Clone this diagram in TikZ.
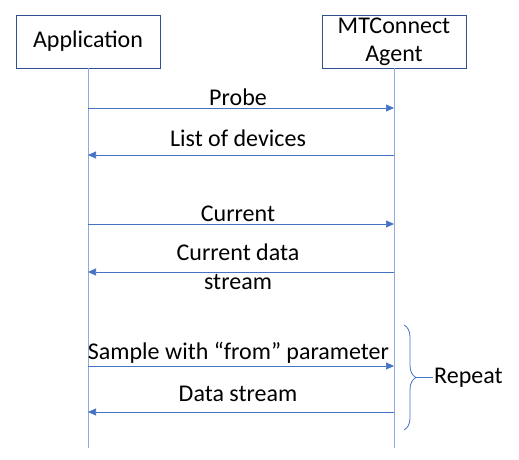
\documentclass[tikz,border=0pt]{standalone}
\usepackage{fontspec}
\setmainfont{Carlito}
\usetikzlibrary{arrows.meta,positioning,decorations.pathreplacing}

\definecolor{msgblue}{HTML}{4472C4}
\definecolor{lifeblue}{HTML}{8FAADC}
\definecolor{boxblue}{HTML}{2F528F}

\begin{document}
\begin{tikzpicture}[
  x=1pt, y=1pt,
  font=\fontsize{24}{28}\selectfont,
  actor/.style={draw=boxblue, fill=white, align=center, minimum width=144pt, minimum height=53pt, inner sep=1pt},
  life/.style={draw=lifeblue, line width=0.8pt},
  msg/.style={draw=msgblue, line width=0.7pt, -{Triangle[length=8pt, width=7pt]}},
  lbl/.style={inner sep=0pt, anchor=base}
]
  \useasboundingbox (0,0) rectangle (519,-460);

  % Participants
  \node[actor] (app) at (88,-41.5) {Application};
  \node[actor] (agent) at (394,-41.5) {MTConnect\\Agent};

  % Lifelines
  \coordinate (append) at (88,-448);
  \coordinate (agentend) at (394,-448);
  \draw[life] (app.south) -- (append);
  \draw[life] (agent.south) -- (agentend);

  % Messages
  \draw[msg] (app.south |- 0,-108) -- (agent.south |- 0,-108);
  \node[lbl] (probe) at (238,-105) {Probe};
  \draw[msg] (agent.south |- 0,-155) -- (app.south |- 0,-155);
  \node[lbl] (list) at (238,-146) {List of devices};

  \draw[msg] (app.south |- 0,-224) -- (agent.south |- 0,-224);
  \node[lbl] (current) at (238,-221) {Current};
  \draw[msg] (agent.south |- 0,-272) -- (app.south |- 0,-272);
  \node[lbl] (curdata) at (238,-260) {Current data};
  \node[lbl] (curstream) at (238,-289.5) {stream};

  \draw[msg] (app.south |- 0,-366) -- (agent.south |- 0,-366);
  \node[lbl] (sample) at (238.5,-359) {Sample with “from” parameter};
  \draw[msg] (agent.south |- 0,-412) -- (app.south |- 0,-412);
  \node[lbl] (datastream) at (238,-401.5) {Data stream};

  % Repeat brace
  \coordinate (bracetop) at (404,-325);
  \coordinate (bracebot) at (404,-430);
  \draw[msgblue, line width=0.8pt, decorate, decoration={brace, amplitude=12pt, mirror, raise=0pt}]
    (bracebot) -- (bracetop);
  \node[anchor=west, inner sep=1pt] (repeat) at (433,-377.5) {Repeat};
  \draw[msgblue, line width=0.8pt] (416,-377.5) -- (repeat.west);
\end{tikzpicture}
\end{document}
